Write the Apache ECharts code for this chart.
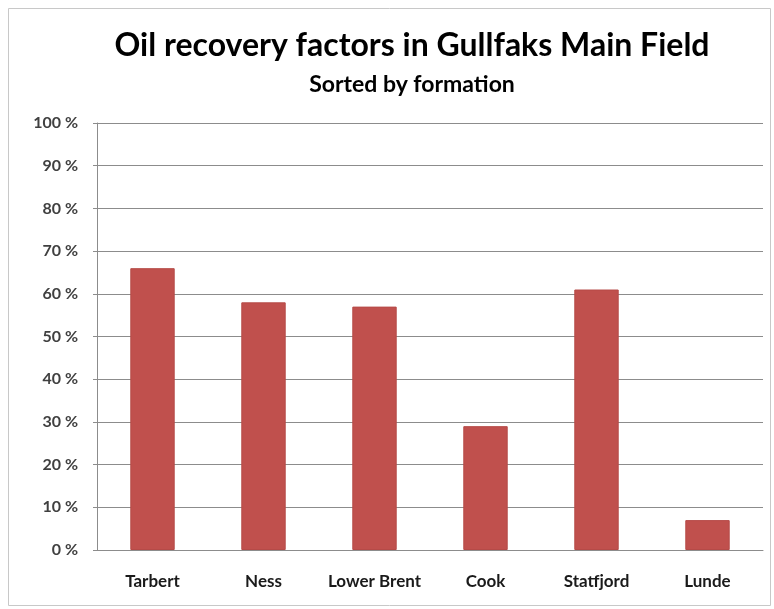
<!DOCTYPE html>
<html>
<head>
<meta charset="utf-8">
<script src="https://cdn.jsdelivr.net/npm/echarts@6/dist/echarts.min.js"></script>
<style>
  html, body { margin: 0; padding: 0; background: #fff; }
  #chart { width: 774px; height: 609px; }
</style>
</head>
<body>
<div id="chart"></div>
<script>
// Formations and their oil recovery factor (%)
const formations = ['Tarbert', 'Ness', 'Lower Brent', 'Cook', 'Statfjord', 'Lunde'];
const recoveryFactor = [66, 58, 57, 29, 61, 7];
const yTicks = [0, 10, 20, 30, 40, 50, 60, 70, 80, 90, 100];

const chart = echarts.init(document.getElementById('chart'), null, { renderer: 'canvas' });

const fontFamily = 'Lato, "Open Sans", sans-serif';

chart.setOption({
  backgroundColor: '#ffffff',
  animation: false,
  graphic: [{
    type: 'rect',
    shape: { x: 8.5, y: 8.5, width: 762, height: 597 },
    style: { fill: 'none', stroke: '#c8c8c8', lineWidth: 1 },
    silent: true,
    z: -1
  }],
  title: [{
    text: 'Oil recovery factors in Gullfaks Main Field',
    left: 407,
    top: 25,
    textAlign: 'center',
    textStyle: { fontFamily, fontSize: 32, fontWeight: 'bold', color: '#000' }
  }, {
    text: 'Sorted by formation',
    left: 407,
    top: 68,
    textAlign: 'center',
    textStyle: { fontFamily, fontSize: 23, fontWeight: 'bold', color: '#000' }
  }],
  grid: { left: 97, right: 11, top: 123, bottom: 59, containLabel: false },
  xAxis: {
    type: 'category',
    data: formations,
    axisLine: { show: true, lineStyle: { color: '#8c8c8c', width: 1 } },
    axisTick: { show: false },
    axisLabel: {
      interval: 0,
      hideOverlap: false,
      margin: 23,
      fontFamily, fontSize: 17, fontWeight: 'bold', color: '#1a1a1a'
    }
  },
  yAxis: {
    type: 'value',
    min: yTicks[0],
    max: yTicks[yTicks.length - 1],
    interval: 10,
    axisLine: { show: true, lineStyle: { color: '#8c8c8c', width: 1 } },
    axisTick: { show: true, length: 4, inside: false, lineStyle: { color: '#8c8c8c' } },
    splitLine: { show: true, lineStyle: { color: '#8c8c8c', width: 1 } },
    axisLabel: {
      margin: 19,
      formatter: v => v + ' %',
      fontFamily, fontSize: 16, fontWeight: 'bold', color: '#404040'
    }
  },
  series: [{
    type: 'bar',
    data: recoveryFactor,
    barWidth: '40%',
    itemStyle: { color: '#c0504d', borderColor: '#b54a47', borderWidth: 1 }
  }]
});
</script>
</body>
</html>
